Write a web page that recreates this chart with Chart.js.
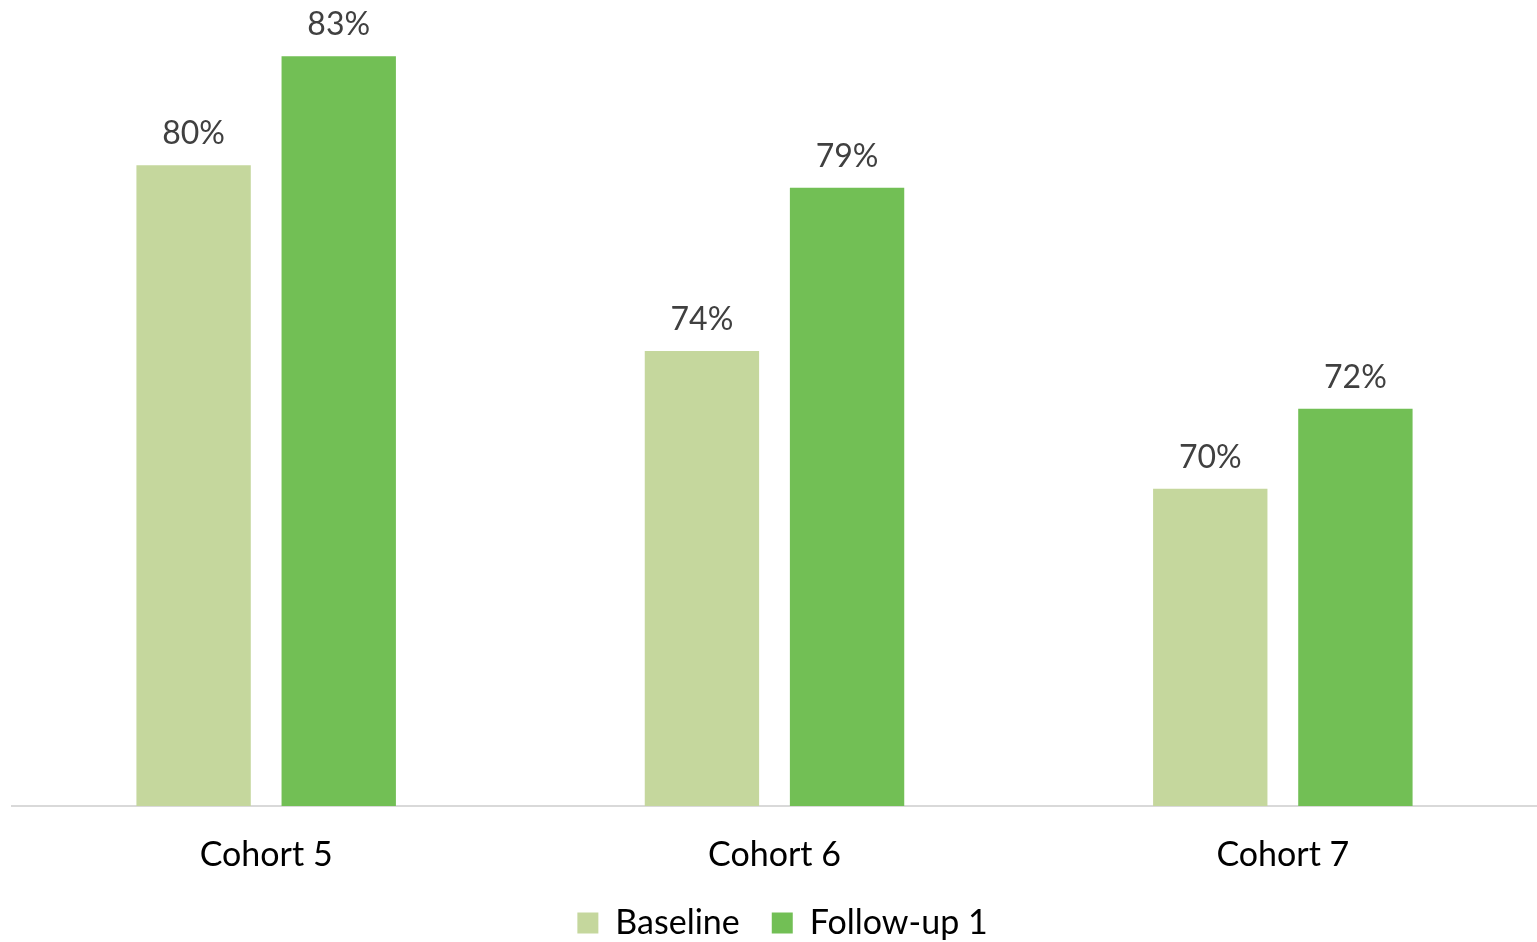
<!DOCTYPE html>
<html lang="en">
<head>
    <meta charset="UTF-8">
    <title>Cohort Baseline vs Follow-up 1</title>
    <style>
        html, body {
            margin: 0;
            padding: 0;
            background-color: #ffffff;
        }
        .chart-wrap {
            width: 1537px;
            height: 942px;
        }
    </style>
</head>
<body>
    <div class="chart-wrap">
        <canvas id="cohortChart"></canvas>
    </div>

    <script src="https://cdn.jsdelivr.net/npm/chart.js"></script>
    <script>
        // data
        const categories = ['Cohort 5', 'Cohort 6', 'Cohort 7'];
        const baseline = [80.0, 74.2, 69.9];
        const followUp1 = [83.4, 79.3, 72.4];
        const seriesNames = ['Baseline', 'Follow-up 1'];

        const fontName = 'Lato, "Liberation Sans", sans-serif';

        // draws the percentage above each bar
        const barLabels = {
            id: 'barLabels',
            afterDatasetsDraw(chart) {
                const ctx = chart.ctx;
                ctx.save();
                ctx.font = '32px ' + fontName;
                ctx.fillStyle = '#404040';
                ctx.textAlign = 'center';
                ctx.textBaseline = 'alphabetic';
                chart.data.datasets.forEach((ds, i) => {
                    chart.getDatasetMeta(i).data.forEach((bar, j) => {
                        ctx.fillText(Math.round(ds.data[j]) + '%', bar.x, bar.y - 21);
                    });
                });
                ctx.restore();
            }
        };

        // nudge the legend a little to the right, like the original
        const legendShift = {
            id: 'legendShift',
            afterLayout(chart) {
                if (chart.legend) {
                    chart.legend.left += 8;
                    chart.legend.right += 8;
                }
            }
        };

        const ctx = document.getElementById('cohortChart').getContext('2d');
        new Chart(ctx, {
            type: 'bar',
            data: {
                labels: categories,
                datasets: [{
                    label: seriesNames[0],
                    data: baseline,
                    backgroundColor: '#c5d79d'
                }, {
                    label: seriesNames[1],
                    data: followUp1,
                    backgroundColor: '#72bf55'
                }]
            },
            options: {
                responsive: true,
                maintainAspectRatio: false,
                animation: false,
                categoryPercentage: 0.571,
                barPercentage: 0.788,
                layout: {
                    padding: { top: 5, left: 12, right: 0, bottom: -8 }
                },
                scales: {
                    x: {
                        grid: { display: false, drawTicks: false },
                        border: { display: true, color: '#d9d9d9', width: 2 },
                        ticks: {
                            color: '#000000',
                            padding: 29,
                            font: { family: fontName, size: 34 }
                        },
                        afterFit(scale) {
                            scale.height = 68;
                        }
                    },
                    y: {
                        display: false,
                        min: 60,
                        max: 85
                    }
                },
                plugins: {
                    legend: {
                        position: 'bottom',
                        labels: {
                            color: '#000000',
                            boxWidth: 21,
                            boxHeight: 21,
                            padding: 32,
                            font: { family: fontName, size: 34 }
                        }
                    },
                    tooltip: { enabled: false }
                }
            },
            plugins: [barLabels, legendShift]
        });
    </script>
</body>
</html>
